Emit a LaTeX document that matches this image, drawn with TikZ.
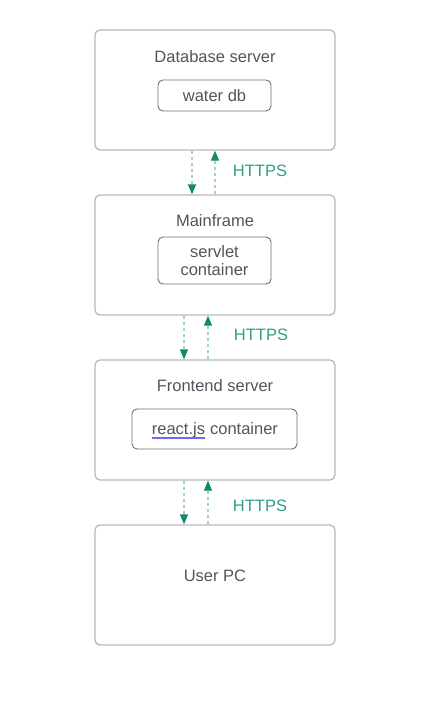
\documentclass[tikz,border=0pt]{standalone}
\usepackage{fontspec}
\setmainfont{Liberation Sans}
\usetikzlibrary{arrows.meta}
\definecolor{txt}{HTML}{50555D}
\definecolor{outerc}{HTML}{B9B9BD}
\definecolor{innerc}{HTML}{6E6E72}
\definecolor{tealdark}{HTML}{10896F}
\definecolor{teallight}{HTML}{9ED5CA}
\definecolor{httpsc}{HTML}{2E9E86}
\definecolor{linkunder}{rgb}{0.42,0.42,0.96}
\begin{document}
\begin{tikzpicture}[x=1pt,y=-1pt,
  outer/.style={draw=outerc, line width=1.3pt, rounded corners=5pt, minimum width=240pt, minimum height=120pt, inner sep=0pt},
  inner/.style={draw=innerc, line width=0.9pt, rounded corners=5pt, inner sep=0pt, text=txt, font=\fontsize{16.5}{19}\selectfont, align=center},
  title/.style={text=txt, font=\fontsize{16.5}{19}\selectfont, inner sep=0pt},
  link/.style={draw=teallight, line width=1.3pt, dash pattern=on 3pt off 3pt, -{Triangle[length=10pt,width=8pt,color=tealdark]}},
  proto/.style={text=httpsc, font=\fontsize{16.5}{19}\selectfont, inner sep=0pt},
  ulink/.style={draw=linkunder, line width=1.1pt}]
\useasboundingbox (0,0) rectangle (439,710);
\node[outer] (db) at (215,90) {};
\node[outer] (mf) at (215,255) {};
\node[outer] (fe) at (215,420) {};
\node[outer] (pc) at (215,585) {};
\node[title] (dbt) at (215,57) {Database server};
\node[title] (mft) at (215,221) {Mainframe};
\node[title] (fet) at (215,386) {Frontend server};
\node[title] (pct) at (215,576) {User PC};
\node[inner, minimum width=113pt, minimum height=31pt] (wdb) at (214.5,95.5) {water db};
\node[inner, minimum width=113pt, minimum height=47pt] (srv) at (214.5,260.5) {servlet\\[-1pt]container};
\node[inner, minimum width=165pt, minimum height=40pt] (rct) at (214.5,429) {};
\node[title, anchor=base west] (rj) at (151.7,434.5) {react.js};
\node[title, anchor=base west] (ct) at ([xshift=4.6pt]rj.base east) {container};
\draw[ulink] ([yshift=-3.5pt]rj.base west) -- ([yshift=-3.5pt]rj.base east);
\draw[link] ([xshift=-23pt]db.south) -- ([xshift=-23pt]mf.north);
\draw[link] (mf.north) -- (db.south);
\draw[link] ([xshift=-31pt]mf.south) -- ([xshift=-31pt]fe.north);
\draw[link] ([xshift=-7pt]fe.north) -- ([xshift=-7pt]mf.south);
\draw[link] ([xshift=-31pt]fe.south) -- ([xshift=-31pt]pc.north);
\draw[link] ([xshift=-7pt]pc.north) -- ([xshift=-7pt]fe.south);
\node[proto] (h1) at (260,171) {HTTPS};
\node[proto] (h2) at (261,335) {HTTPS};
\node[proto] (h3) at (260,506) {HTTPS};
\end{tikzpicture}
\end{document}
